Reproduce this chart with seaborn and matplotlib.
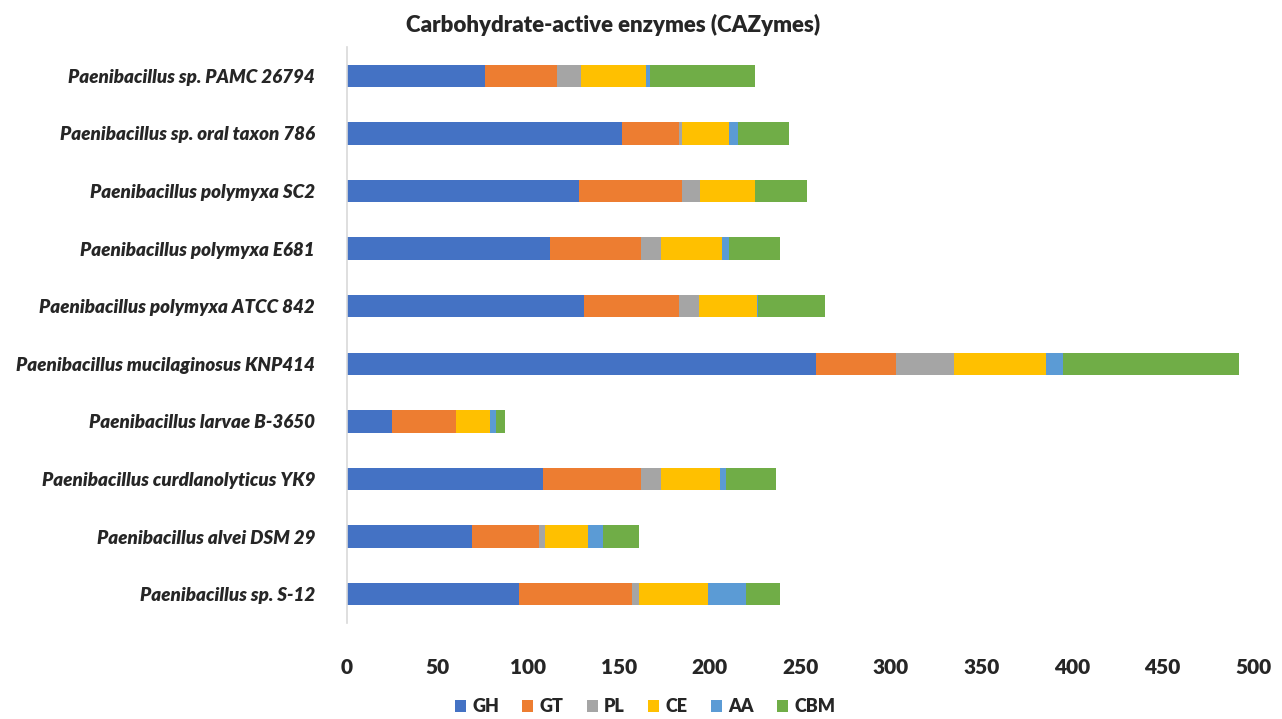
import matplotlib
matplotlib.use("Agg")
import matplotlib.pyplot as plt
from matplotlib.patches import Patch
import pandas as pd
import seaborn as sns

# strains, top to bottom as in the figure
strains = [
    "Paenibacillus sp. PAMC 26794",
    "Paenibacillus sp. oral taxon 786",
    "Paenibacillus polymyxa SC2",
    "Paenibacillus polymyxa E681",
    "Paenibacillus polymyxa ATCC 842",
    "Paenibacillus mucilaginosus KNP414",
    "Paenibacillus larvae B-3650",
    "Paenibacillus curdlanolyticus YK9",
    "Paenibacillus alvei DSM 29",
    "Paenibacillus sp. S-12",
]

# CAZyme family counts
GH = [76, 152, 128, 112, 131, 259, 25, 108, 69, 95]
GT = [40, 31, 57, 50, 52, 44, 35, 54, 37, 62]
PL = [13, 2, 10, 11, 11, 32, 0, 11, 3, 4]
CE = [36, 26, 30, 34, 32, 51, 19, 33, 24, 38]
AA = [2, 5, 0, 4, 1, 9, 3, 3, 8, 21]
CBM = [58, 28, 29, 28, 37, 97, 5, 28, 20, 19]

families = ["GH", "GT", "PL", "CE", "AA", "CBM"]
colours = ["#4472C4", "#ED7D31", "#A5A5A5", "#FFC000", "#5B9BD5", "#70AD47"]

df = pd.DataFrame({"strain": strains, "GH": GH, "GT": GT, "PL": PL,
                   "CE": CE, "AA": AA, "CBM": CBM})
cum = df[families].cumsum(axis=1)
cum["strain"] = df["strain"]

sns.set_style("white")
plt.rcParams["font.family"] = ["Lato", "DejaVu Sans"]

fig = plt.figure(figsize=(12.82, 7.19), dpi=100)
ax = fig.add_axes([0.2707, 0.1335, 0.9774 - 0.2707, 0.9346 - 0.1335])

# stacked look: draw cumulative totals from the back (largest) to the front
for fam, col in reversed(list(zip(families, colours))):
    sns.barplot(data=cum, x=fam, y="strain", color=col, width=0.39,
                saturation=1, linewidth=0, ax=ax, order=strains)

ax.set_xlim(0, 500)
ax.set_xticks(range(0, 501, 50))
ax.set_xlabel("")
ax.set_ylabel("")
for s in ["top", "right", "bottom"]:
    ax.spines[s].set_visible(False)
ax.spines["left"].set_color("#D9D9D9")
ax.spines["left"].set_linewidth(1.2)
ax.tick_params(axis="both", length=0)
ax.tick_params(axis="x", pad=25)
ax.tick_params(axis="y", pad=23)

for lbl in ax.get_xticklabels():
    lbl.set_fontweight("heavy")
    lbl.set_fontsize(15)
for lbl in ax.get_yticklabels():
    lbl.set_fontweight("heavy")
    lbl.set_fontstyle("italic")
    lbl.set_fontsize(13.5)

fig.text(613 / 1282, 1 - 25 / 719, "Carbohydrate-active enzymes (CAZymes)",
         ha="center", va="center", fontsize=16, fontweight="heavy")

handles = [Patch(facecolor=c, edgecolor="none", label=f) for f, c in zip(families, colours)]
fig.legend(handles=handles, loc="center", bbox_to_anchor=(645 / 1282, 1 - 707 / 719),
           ncol=6, frameon=False, handlelength=0.6, handleheight=0.6,
           handletextpad=0.35, columnspacing=1.3,
           prop={"weight": "heavy", "size": 13})

fig.savefig("out.png", dpi=100)
